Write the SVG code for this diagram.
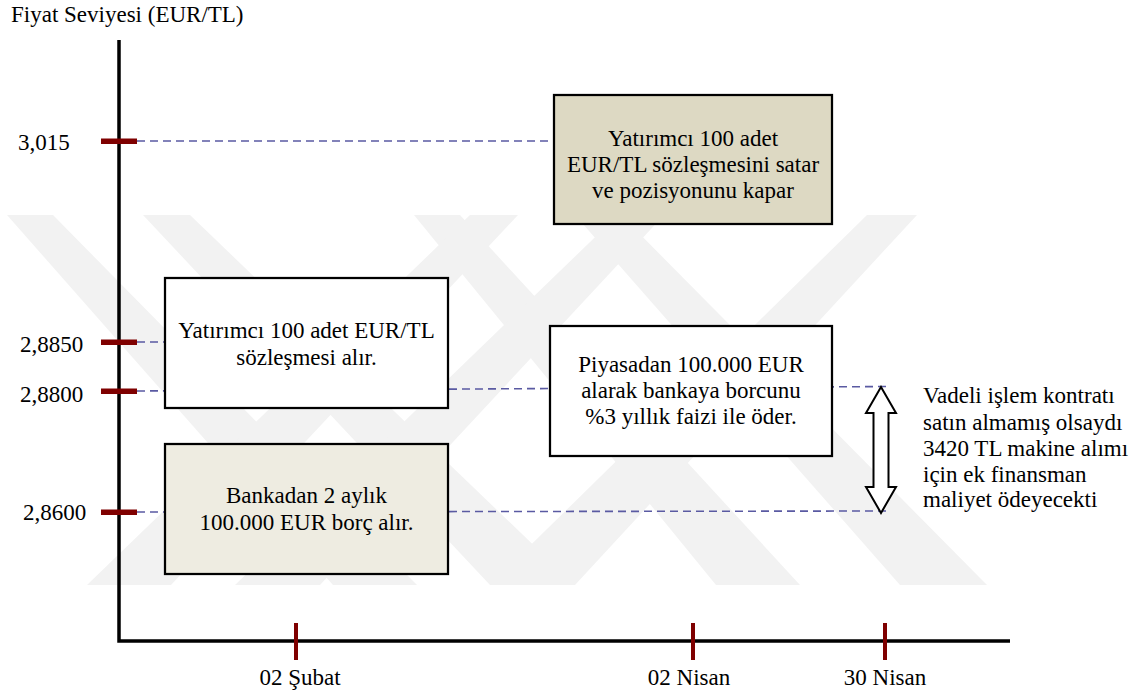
<svg xmlns="http://www.w3.org/2000/svg" width="1136" height="695" viewBox="0 0 1136 695">
  <rect width="1136" height="695" fill="#fff"/>

  <!-- faint background emblem -->
  <g id="emblem" fill="#f2f2f2">
    <polygon points="7,215 53,215 417,585 333,585"/>
    <polygon points="143,215 190,215 575,585 490,585"/>
    <polygon points="414,215 460,215 800,585 716,585"/>
    <polygon points="575,215 621,215 987,585 900,585"/>
    <polygon points="470,215 518,215 171,585 87,585"/>
    <polygon points="618,215 664,215 320,585 235,585"/>
    <polygon points="867,215 917,215 575,585 490,585"/>
  </g>

  <!-- price guide lines -->
  <g id="connectors" stroke="#5a5aa2" stroke-width="1.6" stroke-dasharray="8 5" fill="none">
    <line x1="137" y1="141" x2="555" y2="141"/>
    <line x1="137" y1="342" x2="165" y2="342"/>
    <line x1="137" y1="391" x2="890" y2="386.5"/>
    <line x1="137" y1="512" x2="888" y2="511"/>
  </g>

  <!-- axes, ticks and their labels -->
  <g id="axes" font-family="Times New Roman" font-size="23" fill="#000">
    <text style="font-family:'Times New Roman','Liberation Serif',serif" x="11" y="22">Fiyat Seviyesi (EUR/TL)</text>
    <polyline points="119,40 119,641 1010,641" fill="none" stroke="#000" stroke-width="3.5"/>
    <g fill="#7f0000">
      <rect x="101" y="138.5" width="36" height="5.5"/>
      <rect x="101" y="339.5" width="36" height="5.5"/>
      <rect x="101" y="388.5" width="36" height="5.5"/>
      <rect x="101" y="509.5" width="36" height="5.5"/>
    </g>
    <text style="font-family:'Times New Roman','Liberation Serif',serif" x="18" y="150">3,015</text>
    <text style="font-family:'Times New Roman','Liberation Serif',serif" x="20" y="352">2,8850</text>
    <text style="font-family:'Times New Roman','Liberation Serif',serif" x="20" y="402">2,8800</text>
    <text style="font-family:'Times New Roman','Liberation Serif',serif" x="23" y="520">2,8600</text>
    <g stroke="#7f0000" stroke-width="4">
      <line x1="296" y1="623" x2="296" y2="660"/>
      <line x1="693" y1="623" x2="693" y2="660"/>
      <line x1="885" y1="623" x2="885" y2="660"/>
    </g>
    <g text-anchor="middle">
      <text style="font-family:'Times New Roman','Liberation Serif',serif" x="300" y="685">02 Şubat</text>
      <text style="font-family:'Times New Roman','Liberation Serif',serif" x="689" y="685">02 Nisan</text>
      <text style="font-family:'Times New Roman','Liberation Serif',serif" x="885" y="685">30 Nisan</text>
    </g>
  </g>

  <g id="node-sell" font-family="Times New Roman" font-size="23" text-anchor="middle">
    <rect x="554" y="95" width="278" height="129" fill="#DDD9C3" stroke="#000" stroke-width="2.25"/>
    <text style="font-family:'Times New Roman','Liberation Serif',serif" x="693" y="146">Yatırımcı 100 adet</text>
    <text style="font-family:'Times New Roman','Liberation Serif',serif" x="693" y="172">EUR/TL sözleşmesini satar</text>
    <text style="font-family:'Times New Roman','Liberation Serif',serif" x="693" y="198">ve pozisyonunu kapar</text>
  </g>

  <g id="node-buy" font-family="Times New Roman" font-size="23" text-anchor="middle">
    <rect x="165" y="278" width="283" height="130" fill="#fff" stroke="#000" stroke-width="2.25"/>
    <text style="font-family:'Times New Roman','Liberation Serif',serif" x="306.5" y="338">Yatırımcı 100 adet EUR/TL</text>
    <text style="font-family:'Times New Roman','Liberation Serif',serif" x="306.5" y="365">sözleşmesi alır.</text>
  </g>

  <g id="node-loan" font-family="Times New Roman" font-size="23" text-anchor="middle">
    <rect x="165" y="444" width="283" height="130" fill="#EEECE1" stroke="#000" stroke-width="2.25"/>
    <text style="font-family:'Times New Roman','Liberation Serif',serif" x="306.5" y="503">Bankadan 2 aylık</text>
    <text style="font-family:'Times New Roman','Liberation Serif',serif" x="306.5" y="530">100.000 EUR borç alır.</text>
  </g>

  <g id="node-repay" font-family="Times New Roman" font-size="23" text-anchor="middle">
    <rect x="550" y="326" width="282" height="130" fill="#fff" stroke="#000" stroke-width="2.25"/>
    <text style="font-family:'Times New Roman','Liberation Serif',serif" x="691" y="372">Piyasadan 100.000 EUR</text>
    <text style="font-family:'Times New Roman','Liberation Serif',serif" x="691" y="398">alarak bankaya borcunu</text>
    <text style="font-family:'Times New Roman','Liberation Serif',serif" x="691" y="424">%3 yıllık faizi ile öder.</text>
  </g>

  <g id="node-gap" font-family="Times New Roman" font-size="23">
    <path d="M881,387 L896,413 L888.5,413 L888.5,487 L896,487 L881,513 L866,487 L873.5,487 L873.5,413 L866,413 Z" fill="#fff" stroke="#000" stroke-width="2"/>
    <text style="font-family:'Times New Roman','Liberation Serif',serif" x="923" y="403">Vadeli işlem kontratı</text>
    <text style="font-family:'Times New Roman','Liberation Serif',serif" x="923" y="430">satın almamış olsaydı</text>
    <text style="font-family:'Times New Roman','Liberation Serif',serif" x="923" y="456">3420 TL makine alımı</text>
    <text style="font-family:'Times New Roman','Liberation Serif',serif" x="923" y="482">için ek finansman</text>
    <text style="font-family:'Times New Roman','Liberation Serif',serif" x="923" y="507">maliyet ödeyecekti</text>
  </g>
</svg>
